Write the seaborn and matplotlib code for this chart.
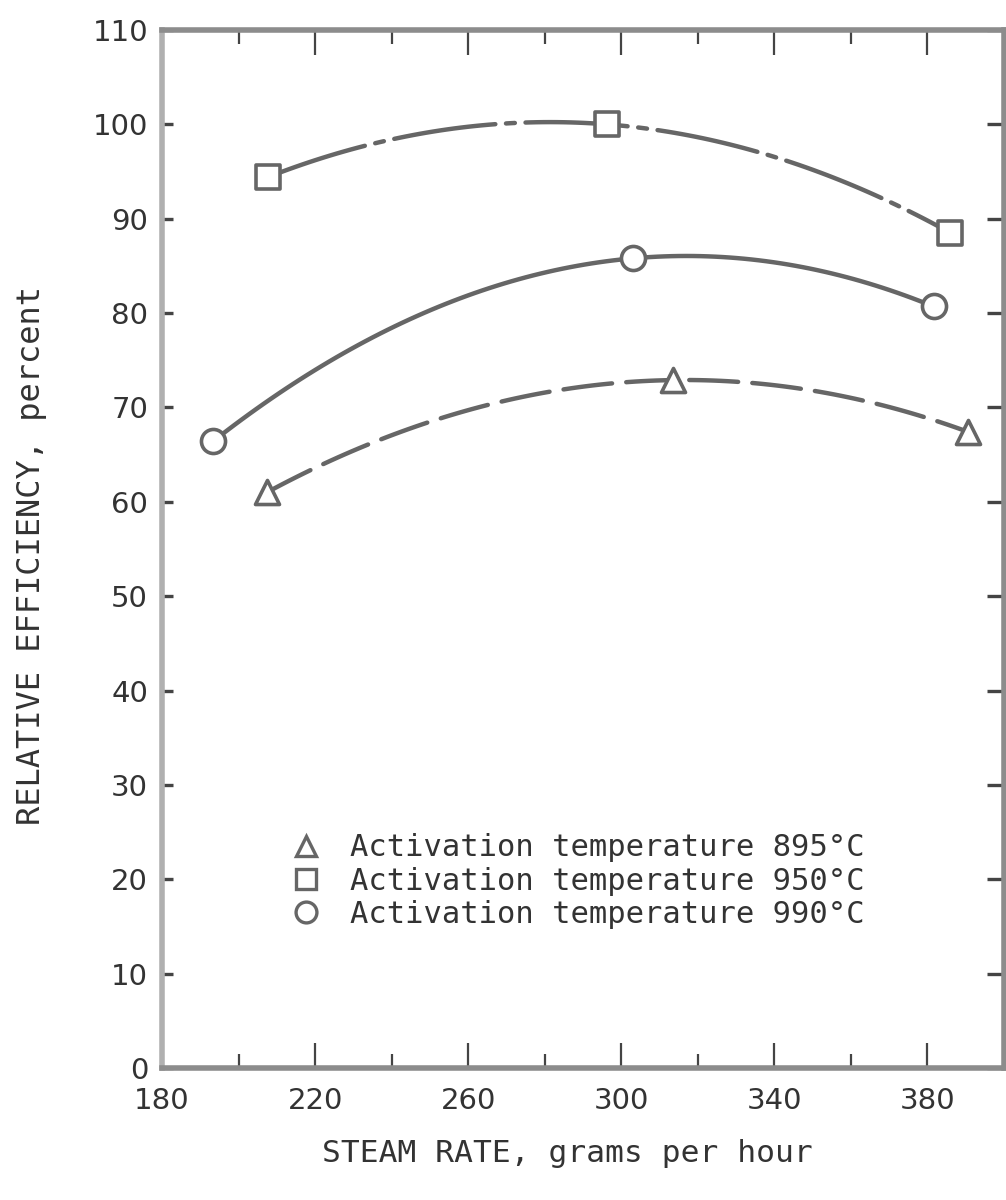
import numpy as np
import pandas as pd
import matplotlib
matplotlib.use("Agg")
import matplotlib.pyplot as plt
from matplotlib.lines import Line2D
import seaborn as sns

# Steam rate (g/h) and relative efficiency (%) for each activation temperature
steam_895 = [207.4, 313.5, 390.7]
eff_895 = [61.0, 72.9, 67.4]

steam_950 = [207.6, 296.3, 386.0]
eff_950 = [94.4, 100.0, 88.5]

steam_990 = [193.3, 303.0, 381.6]
eff_990 = [66.4, 85.8, 80.7]

series_labels = ["Activation temperature 895°C",
                 "Activation temperature 950°C",
                 "Activation temperature 990°C"]

x_ticks_major = [180, 220, 260, 300, 340, 380]
x_ticks_minor = [200, 240, 280, 320, 360]
y_ticks = list(range(0, 111, 10))

sns.set_theme(style="white")
plt.rcParams["font.family"] = ["DejaVu Sans Mono", "DejaVu Sans"]

INK = "#333333"
LINE = "#666666"
FRAME = "#8c8c8c"

fig = plt.figure(figsize=(10.06, 12), dpi=100)
ax = fig.add_axes([162 / 1006, 1 - 1068 / 1200, 842 / 1006, 1038 / 1200])

styles = [
    (steam_895, eff_895, "^", (0, (11, 3.2))),
    (steam_950, eff_950, "s", (0, (23, 2.4, 2.0, 2.4))),
    (steam_990, eff_990, "o", "solid"),
]

for xs, ys, mk, ls in styles:
    df = pd.DataFrame({"steam": xs, "eff": ys})
    # smooth second-order curve through the three measurements
    sns.regplot(data=df, x="steam", y="eff", order=2, ci=None, scatter=False,
                truncate=True, ax=ax,
                line_kws={"color": LINE, "lw": 3.2, "ls": ls,
                          "solid_capstyle": "round", "dash_capstyle": "round"})
    sns.scatterplot(data=df, x="steam", y="eff", marker=mk, s=300,
                    facecolor="white", edgecolor=LINE, linewidth=2.6,
                    zorder=5, ax=ax)

ax.set_xlim(180, 400)
ax.set_ylim(0, 110)

ax.set_xticks(x_ticks_major)
ax.set_xticks(x_ticks_minor, minor=True)
ax.set_yticks(y_ticks)
ax.set_xticklabels([str(v) for v in x_ticks_major])
ax.set_yticklabels([str(v) for v in y_ticks])

ax.tick_params(axis="x", which="major", direction="in", length=18, width=1.6,
               color="#444444", top=True, bottom=True, labelsize=21,
               labelcolor=INK, pad=14)
ax.tick_params(axis="x", which="minor", direction="in", length=10, width=1.6,
               color="#444444", top=True, bottom=True)
ax.tick_params(axis="y", which="major", direction="in", length=12, width=2.4,
               color="#444444", left=True, right=True, labelsize=21,
               labelcolor=INK, pad=10)
# shorter tick marks on the left edge than on the right
for t in ax.yaxis.get_major_ticks():
    t.tick1line.set_markersize(8)
for lbl in ax.get_xticklabels() + ax.get_yticklabels():
    lbl.set_fontfamily(["DejaVu Sans"])

for side, sp in ax.spines.items():
    sp.set_visible(True)
    sp.set_color(FRAME)
    sp.set_linewidth(4.0)
ax.spines["left"].set_color("#b0b0b0")

ax.set_xlabel("STEAM RATE, grams per hour", fontsize=22.5, color=INK)
ax.set_ylabel("RELATIVE EFFICIENCY, percent", fontsize=23, color=INK)
ax.xaxis.set_label_coords(0.481, -0.068)
ax.yaxis.set_label_coords(-0.136, 0.494)

handles = [Line2D([], [], ls="none", marker=m, markersize=15,
                  markerfacecolor="white", markeredgecolor=LINE,
                  markeredgewidth=2.4) for m in ["^", "s", "o"]]
ax.legend(handles, series_labels, frameon=False, fontsize=22,
          labelcolor=INK, loc="upper left",
          bbox_to_anchor=((275 - 162) / 842, (1068 - 821) / 1038),
          handlelength=1.2, handletextpad=0.87, labelspacing=0.14,
          borderaxespad=0)

fig.savefig("out.png", dpi=100, facecolor="white")
